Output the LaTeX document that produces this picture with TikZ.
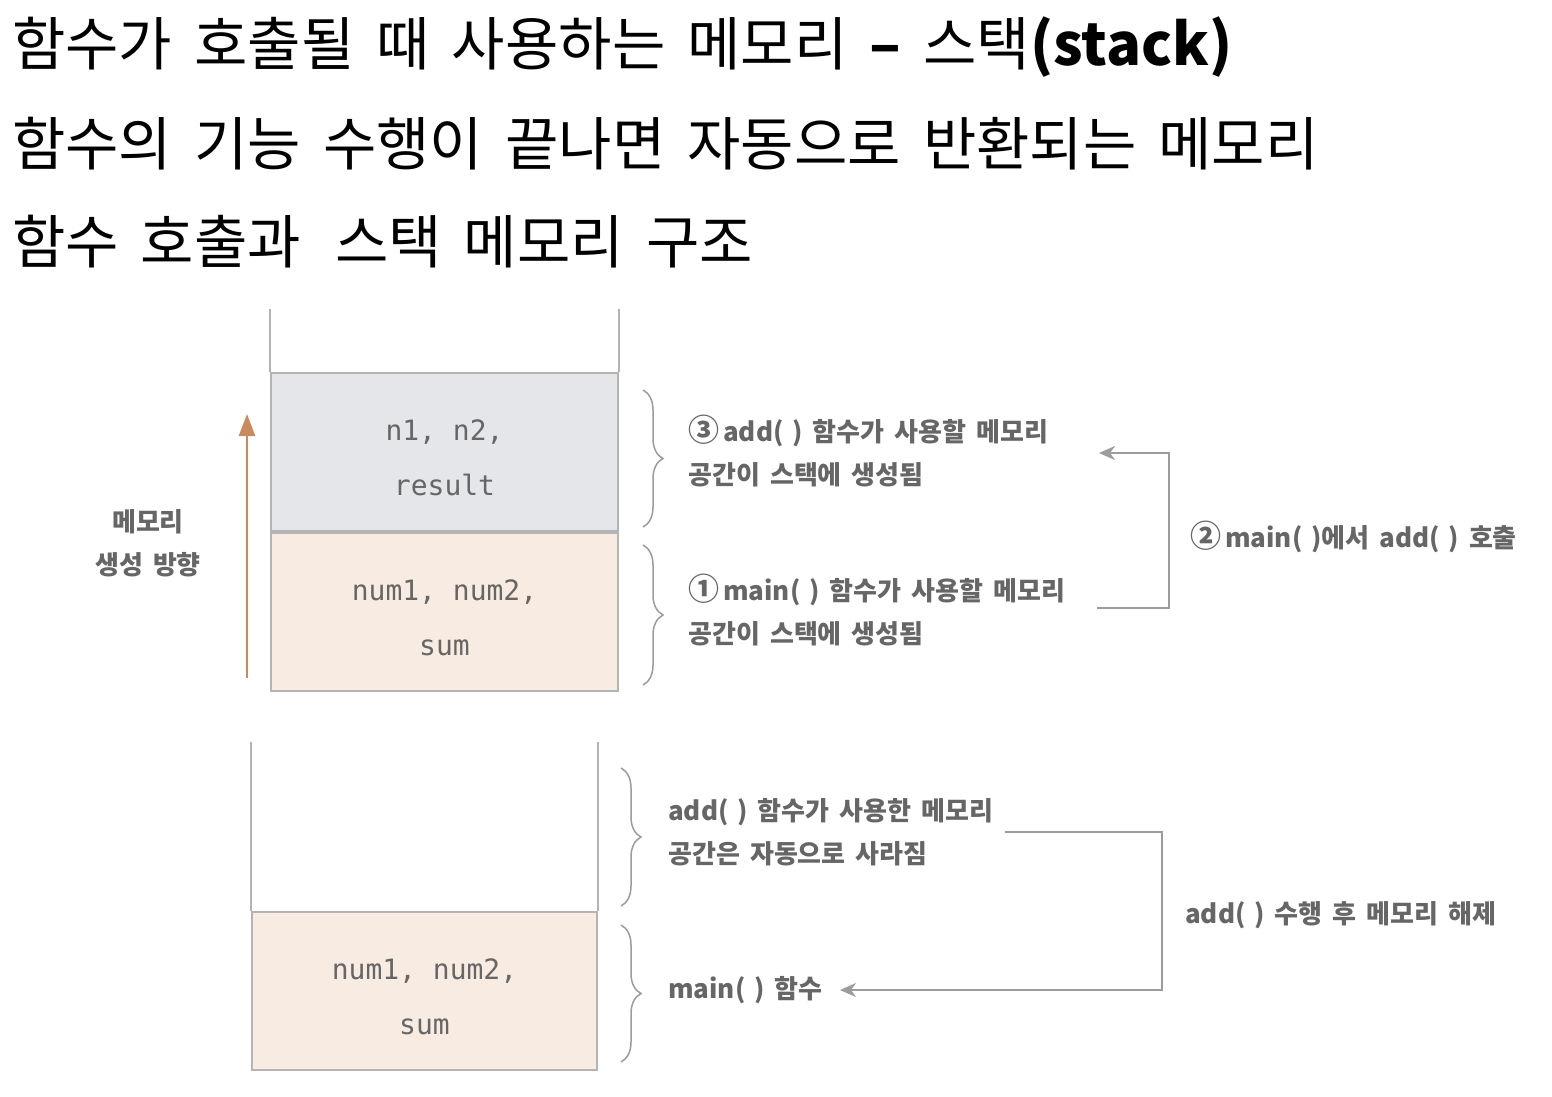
\documentclass[tikz,border=0pt]{standalone}
\usepackage{fontspec}
\setmainfont{Noto Sans CJK KR}
\newfontfamily\headfont[WordSpace=2.7]{Noto Sans CJK KR}
\newfontfamily\lblfont[WordSpace=1.7]{Noto Sans CJK KR}
\newfontfamily\codefont{DejaVu Sans Mono}
\newcommand\circnum[1]{{\fontsize{31}{43}\selectfont #1}\hspace{4pt}}
\usetikzlibrary{arrows.meta,decorations.pathreplacing}
\definecolor{addfill}{HTML}{E5E6EA}
\definecolor{mainfill}{HTML}{F8ECE2}
\definecolor{wallgray}{HTML}{B4B4B4}
\definecolor{linegray}{HTML}{9C9C9C}
\definecolor{txtgray}{HTML}{666666}
\definecolor{upcolor}{HTML}{C98A5E}
\begin{document}
\begin{tikzpicture}[x=1pt,y=-1pt,
  membox/.style={draw=wallgray,line width=2pt,minimum width=347pt,minimum height=158pt,inner sep=0pt,align=center,text=txtgray,font=\codefont\fontsize{28}{55}\selectfont},
  wall/.style={draw=wallgray,line width=2pt},
  curly/.style={draw=linegray,line width=1.5pt,decorate,decoration={brace,amplitude=20pt}},
  lbl/.style={anchor=west,align=left,inner sep=0pt,text=txtgray,font=\lblfont\bfseries\fontsize{26}{43}\selectfont},
  conn/.style={draw=linegray,line width=2pt,-{Stealth[length=16pt,width=14pt,inset=5pt]}},
  head/.style={anchor=west,inner sep=0pt,font=\headfont\fontsize{58}{66}\selectfont}]
\useasboundingbox[fill=white] (0,0) rectangle (1552,1096);
% titles
\node[head] (t1) at (12,47) {함수가 호출될 때 사용하는 메모리 \textbf{–} 스택\textbf{(stack)}};
\node[head] (t2) at (12,144) {함수의 기능 수행이 끝나면 자동으로 반환되는 메모리};
\node[head] (t3) at (12,242) {함수 호출과\hspace{12pt} 스택 메모리 구조};
% stack while add() runs
\node[membox,fill=addfill] (addframe) at (444.5,452) {\rule{0pt}{33pt}n1, n2,\\result};
\node[membox,fill=mainfill,anchor=north] (mainframe) at (addframe.south) {\rule{0pt}{33pt}num1, num2,\\sum};
\draw[wall] (addframe.north west) -- ++(0,-63);
\draw[wall] (addframe.north east) -- ++(0,-63);
\coordinate (growlo) at (247,678);
\coordinate (growhi) at (247,414);
\draw[upcolor,line width=2.5pt,-{Triangle[length=22pt,width=16pt]}] (growlo) -- (growhi);
\node[lbl,anchor=center,align=center] (growlbl) at (148,543) {메모리\\생성 방향};
\draw[curly] (643,390) -- (643,527);
\draw[curly] (643,545) -- (643,685);
\node[lbl] (addlbl) at (688,451) {\circnum{③}add(\,\,) 함수가 사용할 메모리\\공간이 스택에 생성됨};
\node[lbl] (mainlbl) at (688,610) {\circnum{①}main(\,\,) 함수가 사용할 메모리\\공간이 스택에 생성됨};
\node[lbl] (calllbl) at (1190,537) {\circnum{②}main(\,\,)에서 add(\,\,) 호출};
\coordinate (callfrom) at (1097,608);
\coordinate (callto) at (1099,453);
\draw[conn] (callfrom) -- ++(72,0) |- (callto);
% stack after add() returns
\node[membox,fill=mainfill,minimum width=345pt] (leftframe) at (424.5,991) {\rule{0pt}{33pt}num1, num2,\\sum};
\draw[wall] (leftframe.north west) -- ++(0,-169);
\draw[wall] (leftframe.north east) -- ++(0,-169);
\draw[curly] (621,768) -- (621,906);
\draw[curly] (621,925) -- (621,1062);
\node[lbl] (freelbl) at (668,832) {add(\,\,) 함수가 사용한 메모리\\공간은 자동으로 사라짐};
\node[lbl] (retlbl) at (668,990) {main(\,\,) 함수};
\node[lbl] (freeact) at (1185,915) {add(\,\,) 수행 후 메모리 해제};
\coordinate (freefrom) at (1005,832);
\coordinate (freeto) at (840,990);
\draw[conn] (freefrom) -- ++(157,0) |- (freeto);
\end{tikzpicture}
\end{document}
